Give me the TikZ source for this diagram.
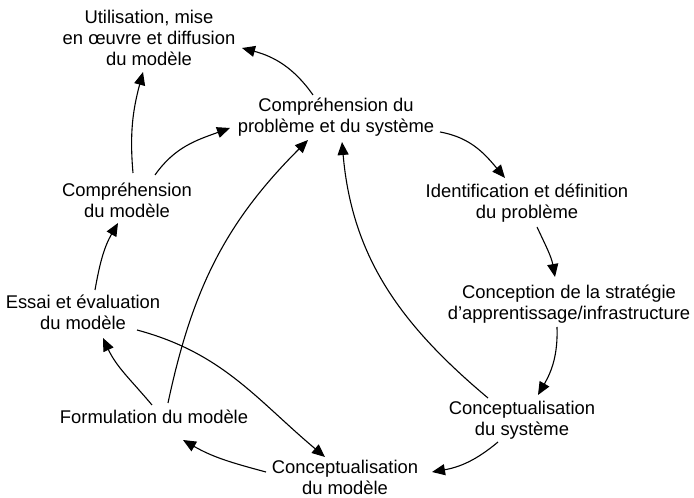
\documentclass[tikz,border=0pt]{standalone}
\usepackage{fontspec}
\setmainfont{Liberation Sans}
\usetikzlibrary{arrows.meta}
\begin{document}
\begin{tikzpicture}[x=1pt,y=1pt,
  lbl/.style={align=center,inner sep=0pt,font=\fontsize{18.4}{21}\selectfont},
  arr/.style={-{Triangle[length=13pt,width=11pt]},line width=1.1pt}]
\useasboundingbox (0,0) rectangle (694,498);
\node[lbl] (u)   at (149,460) {Utilisation, mise\\en œuvre et diffusion\\du modèle};
\node[lbl] (cps) at (336,381) {Compréhension du\\problème et du système};
\node[lbl] (idp) at (527,295) {Identification et définition\\du problème};
\node[lbl] (csa) at (569,194) {Conception de la stratégie\\d’apprentissage/infrastructure};
\node[lbl] (cs)  at (522,78)  {Conceptualisation\\du système};
\node[lbl] (cm)  at (345,21)  {Conceptualisation\\du modèle};
\node[lbl] (fm)  at (154,81)  {Formulation du modèle};
\node[lbl] (ee)  at (83,186)  {Essai et évaluation\\du modèle};
\node[lbl] (com) at (127,298) {Compréhension\\du modèle};

\draw[arr] ([shift={(-23,22)}]cps.center) to[out=125,in=-15] ([shift={(93,-10)}]u.center);
\draw[arr] ([shift={(6,27)}]com.center) to[out=95,in=-105] ([shift={(-6,-34)}]u.center);
\draw[arr] ([shift={(28,25)}]com.center) to[out=55,in=200] ([shift={(-106,-11)}]cps.center);
\draw[arr] ([shift={(14,14)}]fm.center) to[out=78,in=225] ([shift={(-28,-23)}]cps.center);
\draw[arr] ([shift={(-34,22)}]cs.center) to[out=140,in=-85] ([shift={(6,-25)}]cps.center);
\draw[arr] ([shift={(104,-15)}]cps.center) to[out=-10,in=130] ([shift={(-22,25)}]idp.center);
\draw[arr] ([shift={(10,-24)}]idp.center) to[out=-65,in=100] ([shift={(-14,27)}]csa.center);
\draw[arr] ([shift={(-12,-23)}]csa.center) to[out=-88,in=60] ([shift={(16,25)}]cs.center);
\draw[arr] ([shift={(-24,-22)}]cs.center) to[out=-140,in=10] ([shift={(87,5)}]cm.center);
\draw[arr] ([shift={(-79,5)}]cm.center) to[out=165,in=-30] ([shift={(29,-23)}]fm.center);
\draw[arr] ([shift={(-2,12)}]fm.center) to[out=130,in=-65] ([shift={(20,-26)}]ee.center);
\draw[arr] ([shift={(12,22)}]ee.center) to[out=80,in=-120] ([shift={(-9,-23)}]com.center);
\draw[arr] ([shift={(54,-18)}]ee.center) to[out=-15,in=140] ([shift={(-20,20)}]cm.center);
\end{tikzpicture}
\end{document}
